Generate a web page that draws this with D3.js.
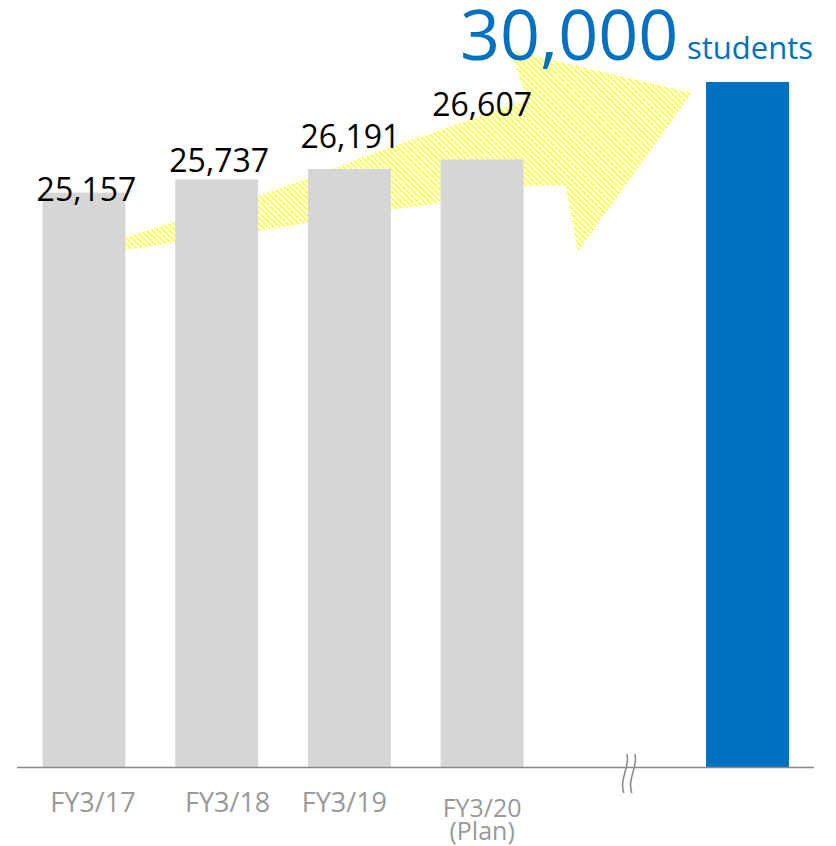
<!DOCTYPE html>
<html lang="en">
<head>
<meta charset="utf-8"/>
<title>Students</title>
<style>
    body { margin: 0; background: #fff; }
    text { font-family: "Open Sans", "Noto Sans", sans-serif; }
</style>
</head>
<body>
<div id="graph"></div>
<script src="https://cdnjs.cloudflare.com/ajax/libs/d3/7.8.5/d3.min.js"></script>
<script>
    // data
    var categories = ["FY3/17", "FY3/18", "FY3/19", "FY3/20", "gap", "target"];
    var catLabels = [["FY3/17"], ["FY3/18"], ["FY3/19"], ["FY3/20", "(Plan)"], [], []];
    var students = [25157, 25737, 26191, 26607, null, 30000];
    var valueLabels = ["25,157", "25,737", "26,191", "26,607", "", "30,000"];
    var unitLabel = "students";

    // arrow outline, x in category slots, y in students
    var arrowPts = [
        [0.12, 22900], [0.31, 23210], [1.31, 25010], [1.69, 25800], [2.31, 27150],
        [2.69, 27900], [3.34, 29220], [3.21, 31400], [4.58, 29520], [3.72, 22560],
        [3.63, 25450], [3.29, 25400], [2.69, 24700], [2.31, 24400], [1.69, 23830],
        [1.31, 23480], [0.31, 22650], [0.12, 22470]
    ];

    var W = 836, H = 846;
    var svg = d3.select("#graph").append("svg")
        .attr("width", W).attr("height", H);

    var x = d3.scaleBand().domain(categories)
        .range([42.5, 789]).paddingInner(0.375).paddingOuter(0);
    var y = d3.scaleLinear().domain([0, 30000]).range([767, 82]);
    var slot = d3.scaleLinear().domain([0, 5])
        .range([x(categories[0]) + x.bandwidth() / 2, x(categories[5]) + x.bandwidth() / 2]);

    // stripe pattern for arrow
    var pat = svg.append("defs").append("pattern")
        .attr("id", "hatch")
        .attr("patternUnits", "userSpaceOnUse")
        .attr("width", 4).attr("height", 4)
        .attr("patternTransform", "rotate(-45)");
    pat.append("rect").attr("width", 1.7).attr("height", 4).attr("fill", "#ffff33");

    var ax = function (d) { return slot(d[0]); };
    var ay = function (d) { return y(d[1]); };
    var upper = arrowPts.slice(0, 7), lower = arrowPts.slice(10);
    var head = arrowPts.slice(6, 11);
    var dPath = d3.line().curve(d3.curveCatmullRom).x(ax).y(ay)(upper)
        + d3.line().x(ax).y(ay)(head).replace("M", "L")
        + d3.line().curve(d3.curveCatmullRom).x(ax).y(ay)(lower).replace("M", "L")
        + "Z";
    svg.append("path").attr("d", dPath).attr("fill", "url(#hatch)");

    // bars
    var rows = categories.map(function (c, i) {
        return { cat: c, v: students[i], lab: valueLabels[i], cl: catLabels[i], i: i };
    });
    svg.selectAll(".bar")
        .data(rows.filter(function (d) { return d.v !== null; }))
        .enter().append("rect")
        .attr("class", "bar")
        .attr("x", function (d) { return x(d.cat); })
        .attr("width", x.bandwidth())
        .attr("y", function (d) { return y(d.v); })
        .attr("height", function (d) { return y(0) - y(d.v); })
        .attr("fill", function (d) { return d.cat === "target" ? "#0070c0" : "#d6d6d6"; });

    // axis line + break mark
    svg.append("line")
        .attr("x1", 17).attr("x2", 814)
        .attr("y1", y(0) + 0.5).attr("y2", y(0) + 0.5)
        .attr("stroke", "#898989").attr("stroke-width", 1.6);
    var bx = x("gap") + x.bandwidth() / 2 + 14;
    [-4, 4].forEach(function (o) {
        var cx = bx + o;
        svg.append("path")
            .attr("d", "M" + (cx + 2) + "," + (y(0) - 13) +
                " C" + (cx + 6) + "," + (y(0) - 2) + " " + (cx - 6) + "," + (y(0) + 12) +
                " " + (cx - 1) + "," + (y(0) + 26))
            .attr("fill", "none").attr("stroke", "#8c8c8c").attr("stroke-width", 1.6);
    });

    // value labels over the grey bars (hand placed in the original)
    var labNudgeX = [2.5, 2.5, 1, 0];
    var labNudgeY = [8, -7, -21, -43];
    svg.selectAll(".val")
        .data(rows.slice(0, 4))
        .enter().append("text")
        .attr("class", "val")
        .attr("x", function (d) { return x(d.cat) + x.bandwidth() / 2 + labNudgeX[d.i]; })
        .attr("y", function (d) { return y(d.v) + labNudgeY[d.i]; })
        .attr("text-anchor", "middle")
        .attr("font-size", 32)
        .attr("fill", "#000")
        .text(function (d) { return d.lab; });

    // target label
    svg.append("text")
        .attr("x", 460).attr("y", 60)
        .attr("font-size", 70)
        .attr("fill", "#0070c0")
        .text(valueLabels[5]);
    svg.append("text")
        .attr("x", 687).attr("y", 59)
        .attr("font-size", 31)
        .attr("fill", "#0070c0")
        .text(unitLabel);

    // category labels
    var catNudgeX = [9, 11, -5, 0];
    var catBase = [812, 812, 812, 817];
    rows.slice(0, 4).forEach(function (d) {
        var t = svg.append("text")
            .attr("text-anchor", "middle")
            .attr("font-size", d.cl.length > 1 ? 25 : 27)
            .attr("fill", "#999");
        d.cl.forEach(function (s, k) {
            t.append("tspan")
                .attr("x", x(d.cat) + x.bandwidth() / 2 + catNudgeX[d.i])
                .attr("y", catBase[d.i] + k * 23)
                .text(s);
        });
    });
</script>
</body>
</html>
